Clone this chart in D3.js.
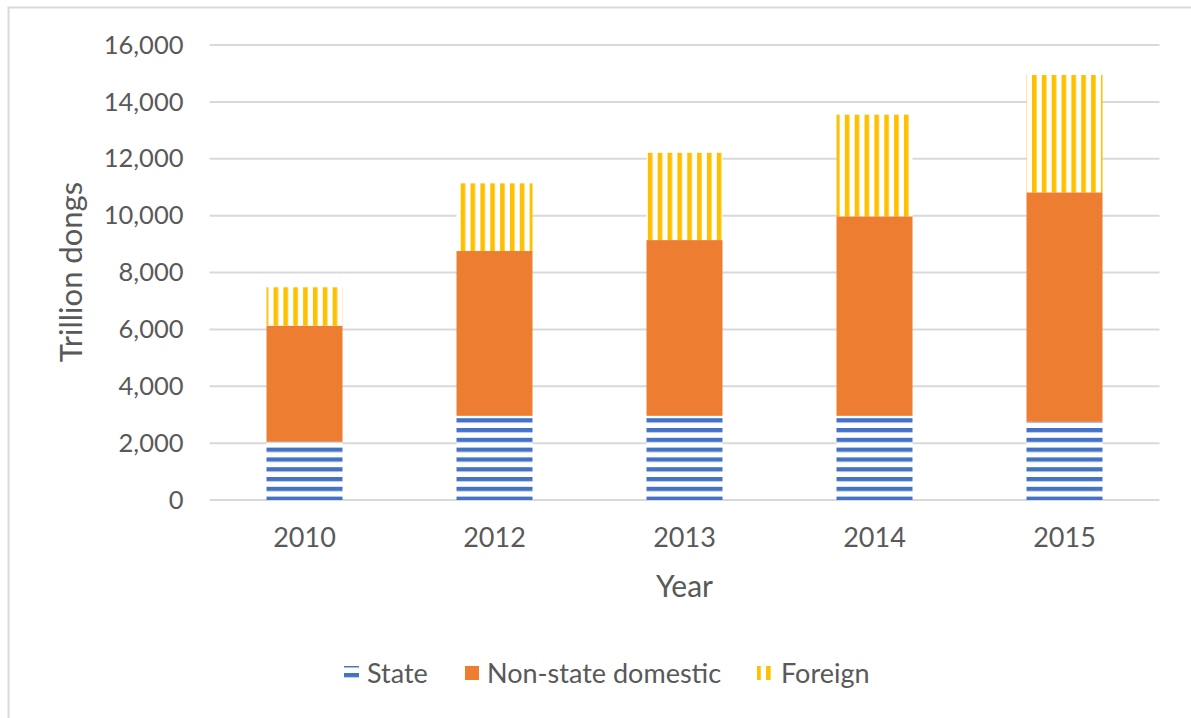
<!DOCTYPE html>
<html>
<head>
<meta charset="utf-8">
<script src="https://cdn.jsdelivr.net/npm/d3@7.9.0/dist/d3.min.js"></script>
<style>
  body { margin: 0; background: #fff; }
  svg text { font-family: Lato, "Open Sans", sans-serif; fill: #595959; }
</style>
</head>
<body>
<svg id="chart" width="1191" height="718"></svg>
<script>
// data
const years = ['2010', '2012', '2013', '2014', '2015'];
const stateVals = [2050, 2960, 2960, 2960, 2750];
const nonStateVals = [4080, 5795, 6180, 7015, 8070];
const foreignVals = [1350, 2380, 3070, 3575, 4125];
const yTicks = [0, 2000, 4000, 6000, 8000, 10000, 12000, 14000, 16000];
const seriesNames = ['State', 'Non-state domestic', 'Foreign'];

const svg = d3.select('#chart');

// outer frame (only left/top edges visible)
svg.append('rect')
  .attr('x', 8.5).attr('y', 7.5)
  .attr('width', 1210).attr('height', 730)
  .attr('fill', '#fff')
  .attr('stroke', '#d9d9d9')
  .attr('stroke-width', 2);

// fill patterns
const defs = svg.append('defs');
let pState = defs.append('pattern')
  .attr('id', 'pat-state')
  .attr('patternUnits', 'userSpaceOnUse')
  .attr('x', 0).attr('y', 418.2)
  .attr('width', 10).attr('height', 9.8);
pState.append('rect').attr('width', 10).attr('height', 9.8).attr('fill', '#fff');
pState.append('rect').attr('width', 10).attr('height', 4.3).attr('fill', '#4472c4');

let pForeign = defs.append('pattern')
  .attr('id', 'pat-foreign')
  .attr('patternUnits', 'userSpaceOnUse')
  .attr('x', 460.7).attr('y', 0)
  .attr('width', 9.85).attr('height', 10);
pForeign.append('rect').attr('width', 9.85).attr('height', 10).attr('fill', '#fff');
pForeign.append('rect').attr('width', 4.6).attr('height', 10).attr('fill', '#ffc000');

const fills = ['url(#pat-state)', '#ed7d31', 'url(#pat-foreign)'];

// scales
let x = d3.scaleBand()
  .domain(years)
  .range([209.5, 1159.5])
  .paddingInner(0.6)
  .paddingOuter(0.3);

let y = d3.scaleLinear()
  .domain([0, 16000])
  .range([500, 45]);

// gridlines
svg.append('g')
  .selectAll('line')
  .data(yTicks)
  .join('line')
  .attr('x1', 209.5).attr('x2', 1159.5)
  .attr('y1', d => y(d)).attr('y2', d => y(d))
  .attr('stroke', '#d9d9d9')
  .attr('stroke-width', 2);

// y tick labels
let yAxis = d3.axisLeft(y).tickValues(yTicks).tickFormat(d3.format(',')).tickSize(0).tickPadding(26);
let yG = svg.append('g').attr('transform', 'translate(209.5,0)').call(yAxis);
yG.select('.domain').remove();
yG.selectAll('text').attr('font-size', 25.5).style('font-family', 'Lato, sans-serif').attr('fill', '#595959');

// stacked bars
let table = years.map((yr, i) => ({
  year: yr,
  'State': stateVals[i],
  'Non-state domestic': nonStateVals[i],
  'Foreign': foreignVals[i]
}));
let stacked = d3.stack().keys(seriesNames)(table);

svg.append('g')
  .selectAll('g')
  .data(stacked)
  .join('g')
  .attr('fill', (d, i) => fills[i])
  .selectAll('rect')
  .data(d => d)
  .join('rect')
  .attr('x', d => x(d.data.year))
  .attr('width', x.bandwidth())
  .attr('y', d => y(d[1]))
  .attr('height', d => y(d[0]) - y(d[1]));

// x tick labels
let xAxis = d3.axisBottom(x).tickSize(0).tickPadding(28);
let xG = svg.append('g').attr('transform', 'translate(0,500)').call(xAxis);
xG.select('.domain').remove();
xG.selectAll('text').attr('font-size', 27).style('font-family', 'Lato, sans-serif').attr('fill', '#595959');

// axis titles
svg.append('text')
  .attr('x', 684.5).attr('y', 597)
  .attr('text-anchor', 'middle')
  .attr('font-size', 30)
  .text('Year');

svg.append('text')
  .attr('transform', 'translate(82,272) rotate(-90)')
  .attr('text-anchor', 'middle')
  .attr('font-size', 31)
  .text('Trillion dongs');

// legend
let legendItems = [
  { name: 'State', fill: fills[0], sx: 344, sw: 15, tx: 367 },
  { name: 'Non-state domestic', fill: fills[1], sx: 465, sw: 14, tx: 487 },
  { name: 'Foreign', fill: fills[2], sx: 757, sw: 14, tx: 781 }
];
let lg = svg.append('g');
legendItems.forEach(it => {
  lg.append('rect')
    .attr('x', it.sx).attr('y', 666)
    .attr('width', it.sw).attr('height', 14)
    .attr('fill', it.fill);
  lg.append('text')
    .attr('x', it.tx).attr('y', 683)
    .attr('font-size', 27)
    .text(it.name);
});
</script>
</body>
</html>
